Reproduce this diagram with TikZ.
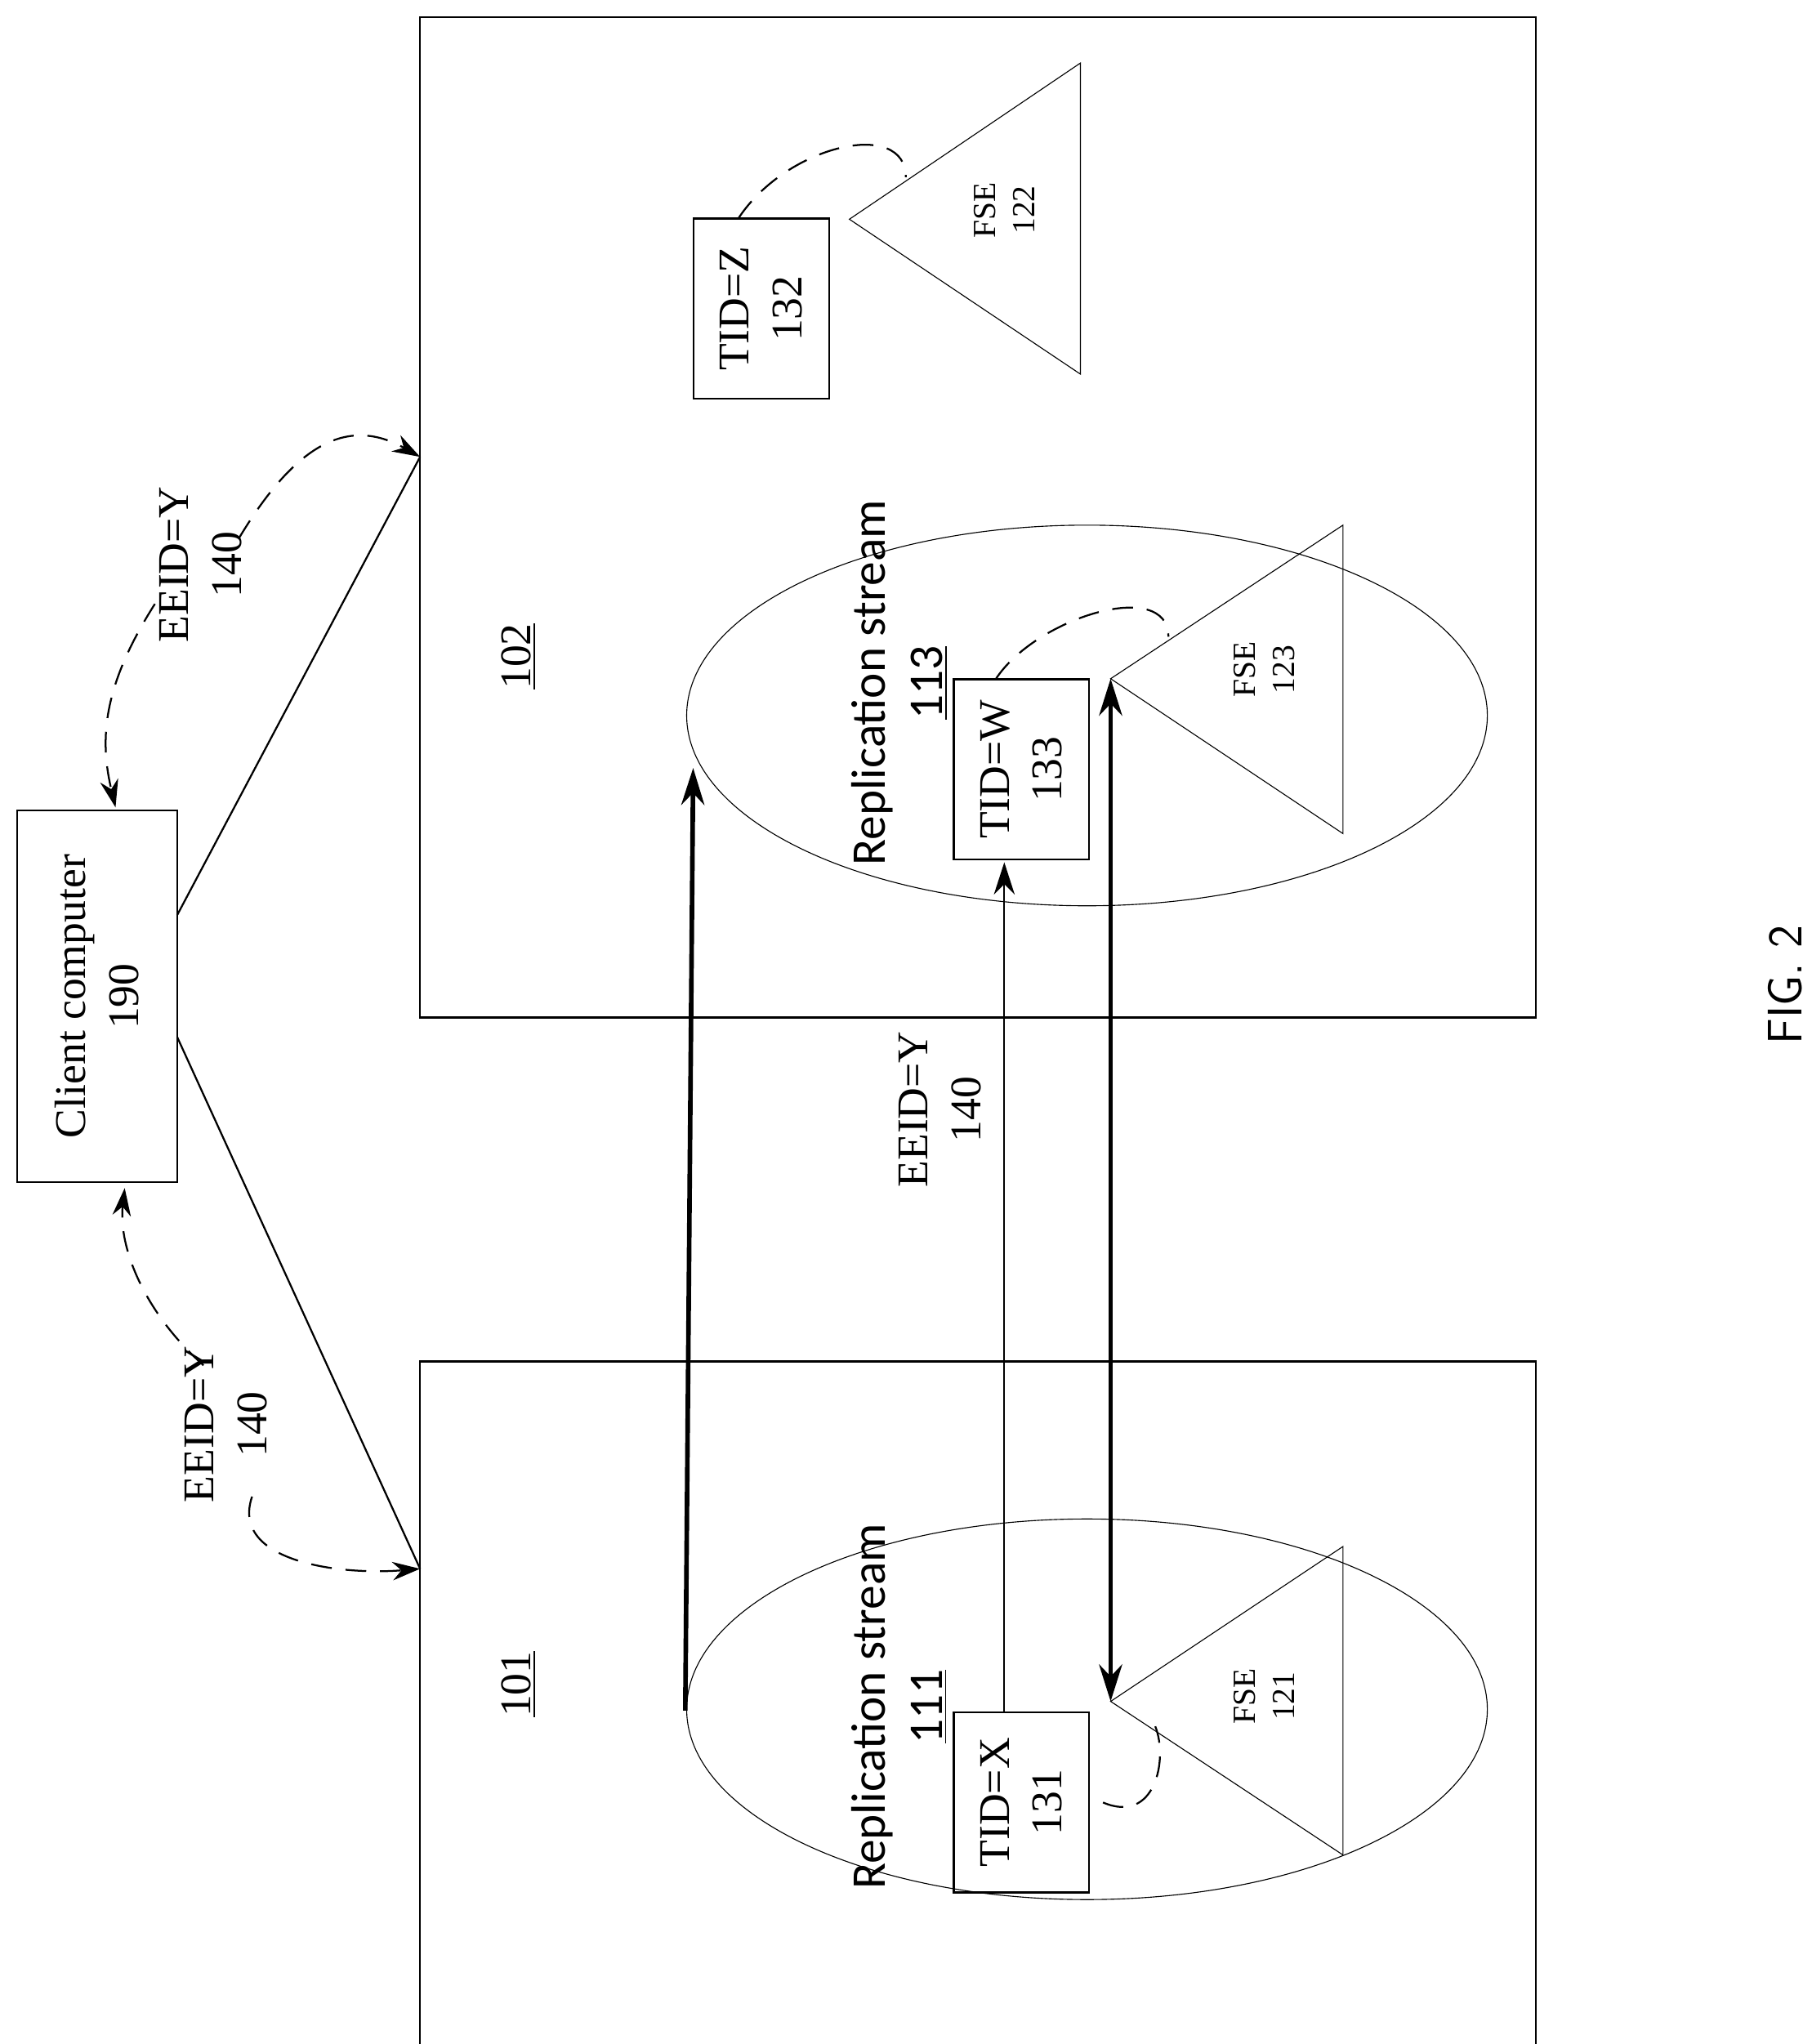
\documentclass[tikz,border=0pt]{standalone}
\usepackage{fontspec}
\setmainfont{Liberation Serif}
\newfontfamily\repfont{Carlito}
\usetikzlibrary{arrows.meta}
\begin{document}
\begin{tikzpicture}[x=0.02cm,y=-0.02cm,
    lbl/.style={rotate=90,align=center,font=\fontsize{19}{23}\selectfont},
    small lbl/.style={rotate=90,align=center,font=\fontsize{14}{17}\selectfont},
    rep/.style={rotate=90,align=center,font=\repfont\fontsize{21}{25}\selectfont},
    tidbox/.style={draw,minimum width=2.06cm,minimum height=2.74cm,line width=0.8pt},
    fse/.style={draw,thin},
    dsh/.style={dashed,dash pattern=on 9pt off 6pt,line width=0.8pt},
    dtip/.style={-{Stealth[length=12pt,width=8pt]}}]
  \useasboundingbox (0,0) rectangle (1380,1557);

  % hosts
  \draw[line width=0.8pt] (320,13) rectangle (1170,775);
  \draw[line width=0.8pt] (320,1037) rectangle (1170,1582);
  \node[lbl] (lab102) at (395,500) {\underline{102}};
  \node[lbl] (lab101) at (395,1283) {\underline{101}};

  % client
  \node[draw,line width=0.8pt,minimum width=5.66cm,minimum height=2.44cm,lbl] (client) at (74,759) {Client computer\\190};
  \coordinate (c102) at (320,348);
  \coordinate (c101) at (320,1195);
  \draw[line width=0.8pt] (135,697) -- (c102);
  \draw[line width=0.8pt] (135,790) -- (c101);

  % replication streams
  \draw[thin] (828,545) ellipse [x radius=6.1cm, y radius=2.9cm];
  \draw[thin] (828,1302) ellipse [x radius=6.1cm, y radius=2.9cm];
  \node[rep] (rep113) at (685,520) {Replication stream\\\underline{113}};
  \node[rep] (rep111) at (685,1300) {Replication stream\\\underline{111}};

  % file system entities
  \draw[fse] (647,167) -- (823,48) -- (823,285) -- cycle;
  \draw[fse] (846,517) -- (1023,400) -- (1023,635) -- cycle;
  \draw[fse] (846,1296) -- (1023,1178) -- (1023,1413) -- cycle;
  \node[small lbl] (fse122) at (765,160) {FSE\\122};
  \node[small lbl] (fse123) at (963,510) {FSE\\123};
  \node[small lbl] (fse121) at (963,1292) {FSE\\121};
  \coordinate (apex122) at (690,135);
  \coordinate (apex123) at (890,485);
  \coordinate (apex121) at (846,1296);
  \coordinate (top123) at (846,517);

  % transaction ids
  \node[tidbox] (tidZ) at (580,235) {};
  \node[lbl] at (tidZ) {TID=Z\\132};
  \node[tidbox] (tidW) at (778,586) {};
  \node[lbl] at (tidW) {TID=W\\133};
  \node[tidbox] (tidX) at (778,1373) {};
  \node[lbl] at (tidX) {TID=X\\131};

  \draw[dsh] (tidZ.north west) ++(35,0) .. controls (600,110) and (690,90) .. (apex122);
  \draw[dsh] (tidW.north west) ++(33,0) .. controls (790,470) and (890,440) .. (apex123);
  \draw[dsh] (tidX.east) ++(10,0) .. controls (880,1390) and (890,1340) .. (880,1315);

  % replication arrows
  \draw[line width=2pt,-{Stealth[length=16pt,width=10pt]}] (522,1303) -- (528,585);
  \draw[line width=0.8pt,-{Stealth[length=14pt,width=9pt]}] (tidX.north) ++(-13,0) -- ++(0,-647);
  \draw[line width=2pt,{Stealth[length=16pt,width=10pt]}-{Stealth[length=16pt,width=10pt]}] (top123) -- (apex121);
  \node[lbl] (eeidmid) at (716,845) {EEID=Y\\140};

  % client dashed links
  \draw[dsh,dtip] (182,410) .. controls (230,330) and (270,320) .. (c102);
  \draw[dsh,dtip] (118,460) .. controls (80,520) and (75,560) .. (88,615);
  \node[lbl] (eeidtop) at (153,430) {EEID=Y\\140};
  \draw[dsh,dtip] (155,1040) .. controls (110,1000) and (90,950) .. (95,905);
  \draw[dsh,dtip] (192,1140) .. controls (175,1190) and (260,1200) .. (c101);
  \node[lbl] (eeidbot) at (172,1085) {EEID=Y\\140};

  \node[rotate=90,font=\sffamily\fontsize{21}{25}\selectfont] (fig) at (1360,750) {FIG. 2};
\end{tikzpicture}
\end{document}
